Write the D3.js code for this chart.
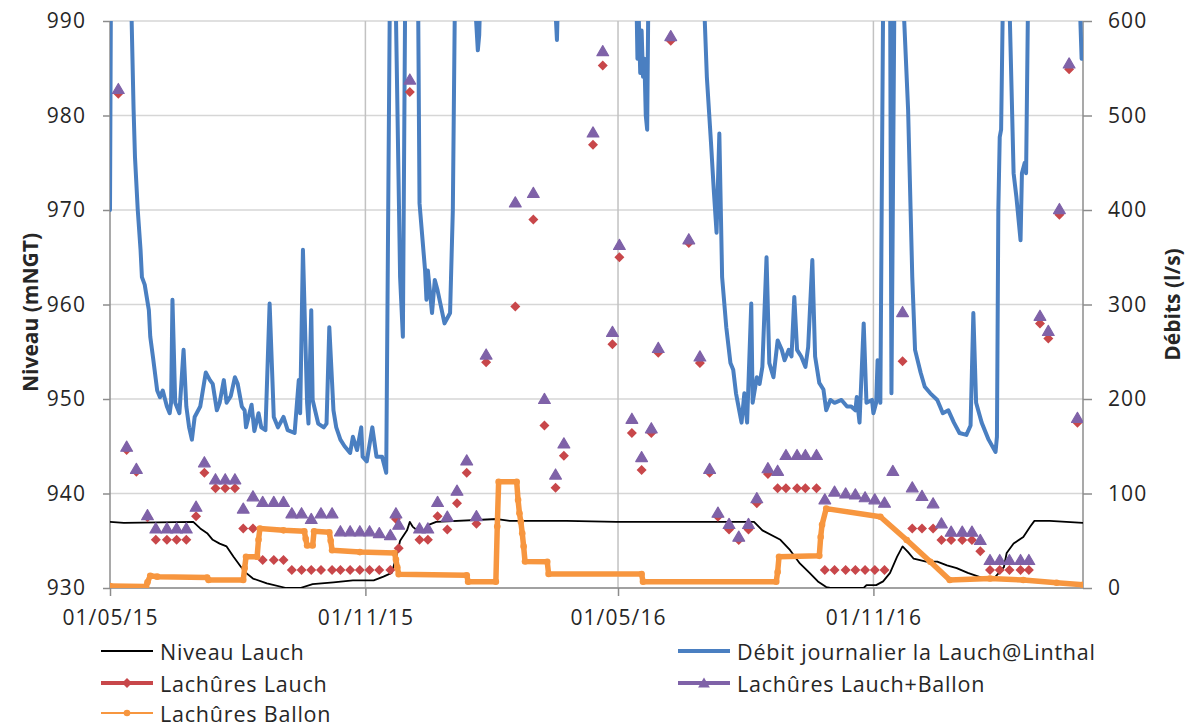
<!DOCTYPE html>
<html lang="fr">
<head>
<meta charset="utf-8">
<title>Niveau Lauch et débits</title>
<script src="https://cdn.jsdelivr.net/npm/d3@7"></script>
<style>
  html, body { margin: 0; padding: 0; background: #ffffff; }
  svg text { font-family: "Open Sans", "DejaVu Sans", sans-serif; fill: #262626; }
</style>
</head>
<body>
<svg id="chart" width="1189" height="727"></svg>
<script>
// ---- Axes ---------------------------------------------------------------
const dateOrigine = "2015-05-01";          // jour 0 des séries
const dateFinAxe = "2017-04-01";
const etiquettesDates = ["01/05/15", "01/11/15", "01/05/16", "01/11/16"];
const ticksNiveau = [930, 940, 950, 960, 970, 980, 990];
const ticksDebit = [0, 100, 200, 300, 400, 500, 600];

// ---- Niveau Lauch (mNGT) : [jour, niveau] -----------------------------
const niveauLauch = [
  [0, 937.0], [10, 936.9], [60, 937.0], [65, 936.3], [70, 935.8], [74, 935.1],
  [79, 934.7], [84, 934.4], [89, 933.3], [94, 932.3], [98, 931.6], [103, 931.0],
  [113, 930.5], [127, 930.0], [137, 930.0], [146, 930.4], [161, 930.6], [175, 930.8],
  [190, 930.8], [197, 931.2], [203, 931.6], [207, 933.7], [209, 935.0], [214, 936.1],
  [216, 937.0], [218, 936.5], [222, 936.0], [226, 936.1], [230, 936.7], [235, 937.0],
  [279, 937.3], [288, 937.1], [329, 937.1], [365, 937.0], [464, 937.0], [470, 936.1],
  [483, 935.1], [490, 934.0], [497, 932.6], [504, 931.6], [510, 930.7], [516, 930.1],
  [519, 930.0], [543, 930.0], [545, 930.3], [552, 930.3], [557, 930.7], [562, 931.6],
  [567, 933.3], [571, 934.4], [575, 933.8], [579, 933.1], [582, 933.0], [588, 932.8],
  [596, 932.8], [603, 932.4], [610, 932.1], [618, 931.6], [630, 931.0], [638, 931.2],
  [644, 932.2], [646, 933.7], [651, 934.7], [658, 935.4], [663, 936.5], [666, 937.1],
  [677, 937.1], [701, 936.9]
];

// ---- Débit journalier la Lauch@Linthal (l/s) : [jour, débit] ----------
const debitLinthal = [
  [0, 400], [1, 750], [8, 1100], [15, 640], [17, 506], [18, 456], [20, 400], [22, 358],
  [23, 329], [25, 321], [28, 294], [29, 266], [31, 244], [34, 209], [36, 202], [38, 209],
  [41, 192], [43, 185], [44, 196], [45, 305], [47, 196], [50, 185], [53, 252], [55, 192],
  [57, 170], [59, 157], [61, 181], [65, 192], [69, 228], [72, 220], [74, 216], [77, 188],
  [79, 196], [82, 220], [84, 196], [87, 203], [90, 223], [92, 216], [95, 192], [97, 188],
  [98, 170], [102, 194], [104, 166], [107, 185], [109, 170], [112, 167], [115, 301],
  [118, 181], [121, 170], [125, 181], [128, 167], [133, 164], [136, 220], [137, 185],
  [139, 358], [142, 196], [143, 174], [145, 294], [146, 199], [150, 174], [154, 170],
  [156, 174], [158, 276], [161, 188], [163, 170], [166, 157], [169, 150], [173, 143],
  [175, 160], [178, 146], [181, 170], [182, 139], [185, 134], [189, 170], [192, 139],
  [196, 139], [199, 122], [202, 700], [205, 700], [209, 329], [211, 266], [213, 700],
  [217, 1000], [222, 620], [223, 407], [227, 336], [228, 305], [229, 336], [232, 291],
  [234, 326], [236, 315], [241, 280], [245, 291], [247, 400], [249, 700], [255, 1200],
  [263, 620], [265, 569], [266, 585], [268, 700], [290, 1000], [320, 640], [322, 580],
  [323, 640], [350, 1000], [379, 650], [380, 560], [381, 600], [382, 545], [383, 590],
  [384, 541], [385, 560], [386, 500], [387, 485], [388, 650], [410, 1200], [428, 620],
  [430, 541], [433, 471], [435, 421], [437, 376], [439, 481], [441, 329], [444, 276],
  [447, 238], [449, 231], [451, 206], [455, 175], [457, 206], [459, 175], [462, 301],
  [463, 196], [466, 223], [468, 216], [470, 234], [473, 350], [475, 238], [478, 223],
  [481, 262], [484, 252], [486, 241], [489, 252], [491, 245], [493, 308], [495, 252],
  [498, 245], [501, 234], [503, 255], [506, 347], [508, 245], [511, 217], [514, 210],
  [516, 188], [519, 199], [522, 196], [527, 199], [531, 192], [534, 192], [537, 188],
  [538, 202], [540, 175], [543, 280], [545, 196], [549, 199], [550, 185], [552, 196],
  [553, 241], [555, 196], [557, 620], [560, 900], [562, 650], [563, 206], [565, 600],
  [567, 800], [571, 640], [575, 506], [578, 329], [580, 252], [584, 228], [587, 213],
  [591, 206], [596, 199], [598, 192], [600, 185], [604, 188], [608, 175], [612, 164],
  [617, 162], [620, 172], [622, 291], [624, 196], [628, 175], [633, 157], [638, 144],
  [639, 160], [640, 400], [641, 477], [642, 485], [644, 700], [648, 620], [651, 439],
  [653, 414], [656, 368], [657, 439], [659, 450], [660, 439], [662, 700], [680, 1200],
  [698, 650], [700, 560]
];

// ---- Lâchures Ballon (l/s) : [jour, débit] ------------------------------
const lachuresBallon = [
  [0, 2], [26, 1.5], [27, 6], [29, 13], [34, 12], [70, 11], [71, 8.5], [96, 8.5],
  [97, 21], [98, 33], [106, 33], [107, 51], [108, 63], [125, 61], [140, 60], [141, 52],
  [142, 45], [146, 45], [147, 60], [158, 59], [159, 50], [160, 40], [180, 38], [205, 37],
  [206, 30], [207, 22], [208, 14.5], [257, 13.5], [258, 6.7], [278, 6.7], [279, 65],
  [280, 112.5], [293, 112.5], [294, 93], [295, 79], [296, 70], [297, 58], [298, 44],
  [299, 28], [315, 27.8], [316, 14.8], [383, 14.8], [384, 6.7], [480, 6.7], [481, 17],
  [482, 33], [511, 34], [512, 54], [513, 67], [516, 84], [555, 75.4], [574, 50.8],
  [591, 27.8], [605, 8.5], [634, 10], [658, 8.5], [682, 5.6], [701, 3.5]
];

// ---- Lâchures ponctuelles (l/s) ----------------------------------------
const joursLachures = [
  6, 12, 19, 27, 33, 41, 48, 55, 62, 68, 76, 83, 90, 96, 103, 110, 118, 125, 131, 138,
  145, 152, 160, 166, 173, 180, 187, 194, 202, 206, 208, 216, 223, 229, 236, 243, 250,
  257, 264, 271, 292, 305, 313, 321, 327, 348, 355, 362, 367, 376, 383, 390, 395, 404,
  417, 425, 432, 438, 446, 453, 460, 466, 474, 481, 487, 495, 501, 509, 515, 522, 530,
  537, 544, 551, 558, 564, 571, 578, 585, 593, 599, 606, 614, 621, 627, 634, 641, 648,
  656, 662, 670, 676, 684, 691, 697
];
const lachuresLauch = [
  523, 146, 123, 75, 51, 51, 51, 51, 76, 122, 105.5, 105.5, 105.5, 63, 63, 29.6, 29.6,
  29.6, 19, 19, 19, 19, 19, 19, 19, 19, 19, 19, 19, 73, 42, 525, 51, 51, 76, 62, 89.6,
  122, 68, 239, 298, 390, 172, 106, 140, 469, 553, 258, 350, 164, 125, 164, 249, 579,
  365, 238, 122, 75.4, 62, 50.8, 62, 89.6, 120.6, 105.5, 105.5, 105.5, 105.5, 105.5, 19,
  19, 19, 19, 19, 19, 19, null, 240, 63, 63, 63, 50.8, 50.8, 50.8, 50.8, 39, 19, 19, 19,
  19, 19, 280, 264, 395, 549, 175
];
const lachuresLauchBallon = [
  528, 149.5, 126, 77, 63, 63, 63, 63, 86, 133, 115, 115, 115, 84, 97, 91, 91, 91, 79,
  79, 73, 79, 79, 60, 60, 60, 60, 58, 56, 79, 67, 538, 63, 63, 91, 75.5, 103, 135, 76,
  247, 408, 418, 200, 120, 153, 482, 568, 271, 363, 179, 138.5, 169, 254, 584, 369, 245,
  126, 79.7, 67.7, 54.3, 67.7, 95, 126.7, 124, 140.7, 140.7, 140.7, 140.7, 93.8, 102,
  100, 99, 96, 93.8, 90.3, 123.8, 292, 106.5, 97.4, 89.6, 68.4, 59.6, 59.6, 59.6, 50.8,
  29.6, 29.6, 29.6, 29.6, 29.6, 288, 272, 401, 555, 180
];

// ---- Mise en page ------------------------------------------------------
const plot = { left: 110, right: 1083, top: 21, bottom: 588 };
const couleurs = {
  niveau: "#000000",
  debit: "#4A7FC1",
  lauch: "#C8474A",
  lauchBallon: "#7F62A8",
  ballon: "#F7963F",
  grille: "#D6D6D6",
  grilleV: "#C2C2C2",
  axe: "#8C8C8C"
};

const parseIso = d3.utcParse("%Y-%m-%d");
const parseEtiquette = d3.utcParse("%d/%m/%y");
const formatEtiquette = d3.utcFormat("%d/%m/%y");
const t0 = parseIso(dateOrigine);
const jourEnDate = j => d3.utcDay.offset(t0, j);

const x = d3.scaleUtc()
  .domain([t0, parseIso(dateFinAxe)])
  .range([plot.left, plot.right]);
const yNiveau = d3.scaleLinear().domain([930, 990]).range([plot.bottom, plot.top]);
const yDebit = d3.scaleLinear().domain([0, 600]).range([plot.bottom, plot.top]);

const svg = d3.select("#chart");

svg.append("defs").append("clipPath").attr("id", "zone")
  .append("rect")
  .attr("x", plot.left).attr("y", plot.top)
  .attr("width", plot.right - plot.left).attr("height", plot.bottom - plot.top);

// Quadrillage horizontal
svg.append("g")
  .selectAll("line").data(ticksNiveau).join("line")
  .attr("x1", plot.left).attr("x2", plot.right)
  .attr("y1", d => yNiveau(d)).attr("y2", d => yNiveau(d))
  .attr("stroke", couleurs.grille).attr("stroke-width", 1.5);

// Quadrillage vertical aux dates
const datesTicks = etiquettesDates.map(parseEtiquette);
svg.append("g")
  .selectAll("line").data(datesTicks.slice(1)).join("line")
  .attr("x1", d => x(d)).attr("x2", d => x(d))
  .attr("y1", plot.top).attr("y2", plot.bottom)
  .attr("stroke", couleurs.grilleV).attr("stroke-width", 1.5);

// Axes
const axeGauche = svg.append("g")
  .attr("transform", `translate(${plot.left},0)`)
  .call(d3.axisLeft(yNiveau).tickValues(ticksNiveau).tickSize(7).tickPadding(17).tickFormat(d3.format("d")));
const axeDroit = svg.append("g")
  .attr("transform", `translate(${plot.right},0)`)
  .call(d3.axisRight(yDebit).tickValues(ticksDebit).tickSize(9).tickPadding(16).tickFormat(d3.format("d")));
const axeBas = svg.append("g")
  .attr("transform", `translate(0,${plot.bottom})`)
  .call(d3.axisBottom(x).tickValues(datesTicks).tickSize(8).tickPadding(14).tickFormat(formatEtiquette));

[axeGauche, axeDroit, axeBas].forEach(g => {
  g.select(".domain").attr("stroke", couleurs.axe).attr("stroke-width", 1.5);
  g.selectAll(".tick line").attr("stroke", couleurs.axe).attr("stroke-width", 1.5);
  g.selectAll(".tick text")
    .attr("font-size", 21).attr("letter-spacing", 1.1)
    .attr("font-family", "Open Sans").attr("fill", "#262626");
});
axeGauche.select(".domain").attr("d", `M0,${plot.top}V${plot.bottom}`);
axeDroit.select(".domain").attr("d", `M0,${plot.top}V${plot.bottom}`);
axeBas.select(".domain").attr("d", `M${plot.left},0H${plot.right}`);

// Titres d'axes
svg.append("text")
  .attr("transform", `translate(30,${(plot.top + plot.bottom) / 2 + 8}) rotate(-90)`)
  .attr("text-anchor", "middle").attr("dominant-baseline", "central")
  .attr("font-size", 21).attr("font-weight", "bold")
  .text("Niveau (mNGT)");
svg.append("text")
  .attr("transform", `translate(1172,${(plot.top + plot.bottom) / 2}) rotate(-90)`)
  .attr("text-anchor", "middle").attr("dominant-baseline", "central")
  .attr("font-size", 21).attr("font-weight", "bold")
  .text("Débits (l/s)");

// Séries
const zone = svg.append("g").attr("clip-path", "url(#zone)");

const ligneNiveau = d3.line().x(d => x(jourEnDate(d[0]))).y(d => yNiveau(d[1]));
const ligneDebit = d3.line().x(d => x(jourEnDate(d[0]))).y(d => yDebit(d[1]));

zone.append("path").datum(niveauLauch)
  .attr("d", ligneNiveau).attr("fill", "none")
  .attr("stroke", couleurs.niveau).attr("stroke-width", 1.8)
  .attr("stroke-linejoin", "round");

zone.append("path").datum(debitLinthal)
  .attr("d", ligneDebit).attr("fill", "none")
  .attr("stroke", couleurs.debit).attr("stroke-width", 4)
  .attr("stroke-linejoin", "round").attr("stroke-linecap", "round");

const losange = r => `M0,${-r}L${r},0L0,${r}L${-r},0Z`;
const triangle = r => `M0,${-r}L${r * 1.05},${r * 0.8}L${-r * 1.05},${r * 0.8}Z`;

const pointsLauch = joursLachures.map((j, i) => [j, lachuresLauch[i]]).filter(d => d[1] != null);
const pointsLauchBallon = joursLachures.map((j, i) => [j, lachuresLauchBallon[i]]).filter(d => d[1] != null);

zone.append("g").selectAll("path").data(pointsLauch).join("path")
  .attr("transform", d => `translate(${x(jourEnDate(d[0]))},${yDebit(d[1])})`)
  .attr("d", losange(5)).attr("fill", couleurs.lauch);

zone.append("g").selectAll("path").data(pointsLauchBallon).join("path")
  .attr("transform", d => `translate(${x(jourEnDate(d[0]))},${yDebit(d[1])})`)
  .attr("d", triangle(5.6)).attr("fill", couleurs.lauchBallon)
  .attr("stroke", couleurs.lauchBallon).attr("stroke-width", 1.2).attr("stroke-linejoin", "round");

// Lâchures Ballon : ligne épaisse (marqueurs journaliers jointifs)
zone.append("path").datum(lachuresBallon)
  .attr("d", ligneDebit).attr("fill", "none")
  .attr("stroke", couleurs.ballon).attr("stroke-width", 5.5)
  .attr("stroke-linejoin", "round").attr("stroke-linecap", "round");
zone.append("g").selectAll("circle").data(lachuresBallon).join("circle")
  .attr("cx", d => x(jourEnDate(d[0]))).attr("cy", d => yDebit(d[1]))
  .attr("r", 3.3).attr("fill", couleurs.ballon);

// Légende
const legende = [
  { nom: "Niveau Lauch", x: 101, y: 651, couleur: couleurs.niveau, largeur: 2, marque: null },
  { nom: "Débit journalier la Lauch@Linthal", x: 678, y: 651, couleur: couleurs.debit, largeur: 4, marque: null },
  { nom: "Lachûres Lauch", x: 101, y: 683, couleur: couleurs.lauch, largeur: 4, marque: "losange" },
  { nom: "Lachûres Lauch+Ballon", x: 678, y: 683, couleur: couleurs.lauchBallon, largeur: 4, marque: "triangle" },
  { nom: "Lachûres Ballon", x: 101, y: 713, couleur: couleurs.ballon, largeur: 2, marque: "cercle" }
];
const gLeg = svg.append("g").selectAll("g").data(legende).join("g")
  .attr("transform", d => `translate(${d.x},${d.y})`);
gLeg.append("line")
  .attr("x1", 0).attr("x2", 52).attr("y1", 0).attr("y2", 0)
  .attr("stroke", d => d.couleur).attr("stroke-width", d => d.largeur);
gLeg.filter(d => d.marque === "losange").append("path")
  .attr("transform", "translate(26,0)").attr("d", losange(5)).attr("fill", couleurs.lauch);
gLeg.filter(d => d.marque === "triangle").append("path")
  .attr("transform", "translate(26,0)").attr("d", triangle(5.6)).attr("fill", couleurs.lauchBallon);
gLeg.filter(d => d.marque === "cercle").append("circle")
  .attr("cx", 26).attr("cy", 0).attr("r", 3.3).attr("fill", couleurs.ballon);
gLeg.append("text")
  .attr("x", 59).attr("y", 0).attr("dominant-baseline", "central")
  .attr("font-size", 21.5).attr("letter-spacing", 0.8)
  .text(d => d.nom);
</script>
</body>
</html>
